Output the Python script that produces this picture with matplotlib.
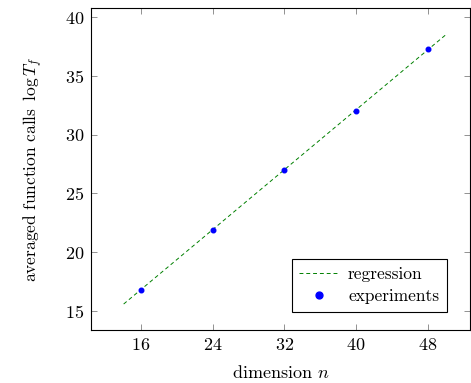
import numpy as np
import matplotlib
matplotlib.use("Agg")
import matplotlib.pyplot as plt

plt.rcParams['font.family'] = 'cmr10'
plt.rcParams['mathtext.fontset'] = 'cm'
plt.rcParams['axes.formatter.use_mathtext'] = True

# experiments
dims = [16, 24, 32, 40, 48]
calls = [16.8, 21.9, 27.0, 32.0, 37.3]

# regression line end points
reg_x = [14.1, 50.0]
reg_y = [15.6, 38.5]

xticks = [16, 24, 32, 40, 48]
yticks = [15, 20, 25, 30, 35, 40]

fig = plt.figure(figsize=(4.71, 3.83), dpi=100)
ax = fig.add_axes([0.193, 0.138, 0.805, 0.841])

ax.plot(reg_x, reg_y, linestyle=(0, (4, 3)), color=(0, 0.5, 0), lw=0.7, label='regression')
ax.plot(dims, calls, 'o', color='blue', markersize=3.3, linestyle='none', label='experiments')

ax.set_xlim(10.45, 52.7)
ax.set_ylim(13.38, 40.77)
ax.set_xticks(xticks)
ax.set_yticks(yticks)
ax.tick_params(direction='in', length=4.5, width=0.6, color='#808080', top=True, right=True, labelsize=13, pad=5)
for s in ax.spines.values():
    s.set_linewidth(0.8)

ax.set_xlabel(r'dimension $n$', fontsize=13, labelpad=8)
ax.set_ylabel(r'averaged function calls $\,\log T_f$', fontsize=12.5, labelpad=14)

leg = ax.legend(loc='lower right', bbox_to_anchor=(0.953, 0.04), fontsize=12.5, frameon=True, fancybox=False,
                edgecolor='black', framealpha=1, handlelength=2.2, borderpad=0.45, labelspacing=0.4,
                markerscale=1.5, handletextpad=0.6, borderaxespad=0.3)
leg.get_frame().set_linewidth(0.8)

fig.savefig('out.png', dpi=100)
